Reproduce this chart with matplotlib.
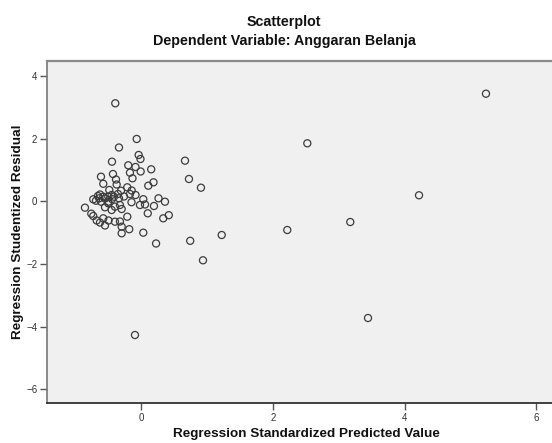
import matplotlib
matplotlib.use('Agg')
import matplotlib.pyplot as plt

plt.rcParams['font.family'] = ['Liberation Sans', 'DejaVu Sans']

# values
pred = [5.235, 2.524, 0.910, 4.219, 1.225, 2.220, 3.176, 0.941, 3.445, -0.091,
        -0.390, -0.065, -0.334, -0.440, -0.035, -0.008, 0.668, 0.728, -0.193, -0.083,
        0.155, -0.167, -0.005, -0.129, 0.190, 0.111, -0.607, -0.425, -0.379, -0.572,
        -0.369, -0.481, -0.303, -0.208, -0.141, -0.083, -0.167, -0.258, -0.334, -0.410,
        -0.496, -0.572, -0.633, -0.724, -0.683, -0.607, -0.496, 0.035, 0.061, -0.015,
        -0.144, 0.266, 0.364, 0.197, -0.445, -0.319, -0.445, -0.496, -0.395, -0.546,
        -0.293, -0.850, -0.754, -0.724, -0.672, -0.622, -0.546, -0.572, -0.493, -0.395,
        -0.319, -0.293, -0.293, -0.208, -0.178, 0.035, 0.103, 0.338, 0.422, 0.229,
        0.747, -0.622, -0.546, -0.653, -0.440, -0.349]
resid = [3.434, 1.851, 0.434, 0.192, -1.076, -0.916, -0.661, -1.883, -3.725, -4.268,
         3.128, 1.989, 1.717, 1.264, 1.478, 1.350, 1.296, 0.712, 1.149, 1.095,
         1.021, 0.913, 0.951, 0.734, 0.606, 0.498, 0.785, 0.871, 0.696, 0.559,
         0.536, 0.361, 0.338, 0.447, 0.345, 0.201, 0.233, 0.153, 0.096, 0.147,
         0.147, 0.147, 0.096, 0.064, 0.019, -0.013, -0.013, 0.067, -0.102, -0.118,
         -0.029, 0.096, -0.013, -0.150, 0.201, -0.118, -0.278, -0.064, -0.172, -0.192,
         -0.246, -0.204, -0.396, -0.469, -0.613, -0.677, -0.772, -0.543, -0.613, -0.651,
         -0.645, -0.811, -1.021, -0.492, -0.891, -1.002, -0.383, -0.543, -0.444, -1.347,
         -1.261, 0.217, 0.089, 0.169, 0.073, 0.233]
xticks = [0, 2, 4, 6]
yticks = [-6, -4, -2, 0, 2, 4]

W, H = 552, 443
fig = plt.figure(figsize=(W / 100, H / 100), dpi=100)
fig.patch.set_facecolor('white')
# plot area: left 47px, top 61px, bottom 403px, runs off the right edge
ax = fig.add_axes([47 / W, (H - 403) / H, (553 - 47) / W, (403 - 61) / H])
ax.set_facecolor('#f0f0f0')

ax.scatter(pred, resid, s=26, facecolors='none', edgecolors='#3c3c3c', linewidths=0.9)

ax.set_xlim(-1.426, 6.252)
ax.set_ylim(-6.438, 4.478)
ax.set_xticks(xticks)
ax.set_yticks(yticks)
ax.tick_params(direction='out', length=5, width=1, colors='#555555', labelsize=7,
               labelcolor='#333333', pad=2)

ax.spines['right'].set_visible(False)
ax.spines['top'].set_color('#8a8a8a')
ax.spines['top'].set_linewidth(1.6)
ax.spines['left'].set_color('#777777')
ax.spines['left'].set_linewidth(1.2)
ax.spines['bottom'].set_color('#222222')
ax.spines['bottom'].set_linewidth(1.2)

fig.text(284 / W, 1 - 22 / H, 'Scatterplot', ha='center', va='center',
         fontsize=10.3, fontweight='bold', color='#111111')
fig.text(284 / W, 1 - 41.5 / H, 'Dependent Variable: Anggaran Belanja', ha='center',
         va='center', fontsize=10.3, fontweight='bold', color='#111111')
fig.text(306 / W, 1 - 434 / H, 'Regression Standardized Predicted Value', ha='center',
         va='center', fontsize=9.7, fontweight='bold', color='#111111')
fig.text(18 / W, 1 - 232 / H, 'Regression Studentized Residual', ha='center',
         va='center', rotation=90, fontsize=9.7, fontweight='bold', color='#111111')

fig.savefig('out.png', dpi=100)
